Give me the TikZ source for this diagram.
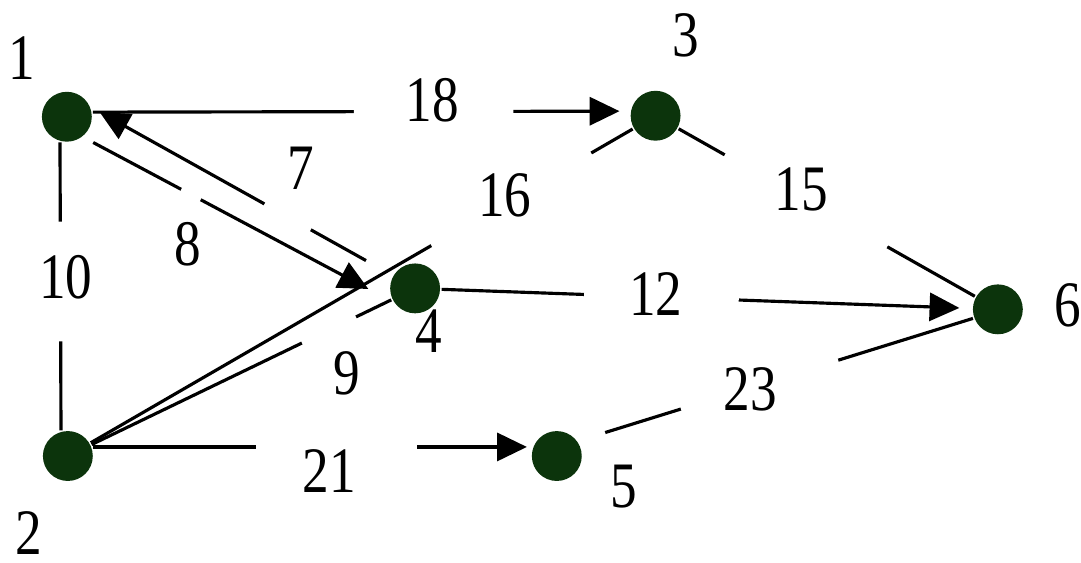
\documentclass[tikz,border=0pt]{standalone}
\usepackage{fontspec}
\setmainfont{Liberation Serif}[FakeStretch=0.82]
\usetikzlibrary{arrows.meta}
\definecolor{nodegreen}{RGB}{12,52,12}

\begin{document}
\begin{tikzpicture}[x=0.02cm,y=-0.02cm,line width=1.8pt,
  vertex/.style={circle,fill=nodegreen,minimum size=1cm,inner sep=0pt},
  arr/.style={-{Triangle[length=17pt,width=16pt]}},
  gapbox/.style={sloped,fill=white,inner sep=0pt,minimum height=5pt,minimum width=#1*0.02cm},
  lbl/.style={inner sep=0pt,font=\fontsize{37}{44}\selectfont}]
 \fill[white](0,0) rectangle (1081,564);
 \node[vertex] (n1) at (67,117) {};
 \node[vertex] (n2) at (68,457) {};
 \node[vertex] (n3) at (657,116) {};
 \node[vertex] (n4) at (416,289) {};
 \node[vertex] (n5) at (558,457) {};
 \node[vertex] (n6) at (1000,310) {};
 \draw[arr,shorten >=0.2cm] (n1.10) -- node[gapbox=160,pos=0.635]{} (n3.170);
 \draw (n1.-105) -- node[gapbox=120,pos=0.483]{} (n2.105);
 \draw[arr,shorten <=0.6cm,shorten >=0.18cm] (n4.150) -- node[gapbox=53,pos=0.348]{} (n1.20);
 \draw[arr,shorten <=0.22cm,shorten >=0.54cm] (n1.-51) -- node[gapbox=22,pos=0.348]{} (n4.-150);
 \draw (n2) -- node[gapbox=185,pos=0.776]{} (n3);
 \draw (n2) -- node[gapbox=60,pos=0.792]{} (n4);
 \draw[arr,shorten >=0.1cm] (n2.20) -- node[gapbox=161,pos=0.555]{} (n5.160);
 \draw[arr,shorten >=0.24cm] (n4) -- node[gapbox=155,pos=0.415]{} (n6);
 \draw (n3) -- node[gapbox=187,pos=0.43]{} (n6);
 \draw[shorten <=0.56cm] (n5.35) -- node[gapbox=165,pos=0.459]{} (n6.-160);
 \node[lbl] (l1) at (22,58) {1};
 \node[lbl] (l2) at (29,534) {2};
 \node[lbl] (l3) at (687,35) {3};
 \node[lbl] (l4) at (430,332) {4};
 \node[lbl] (l5) at (625,488) {5};
 \node[lbl] (l6) at (1070,306) {6};
 \node[lbl] (l7) at (301,169) {7};
 \node[lbl] (l8) at (188,245) {8};
 \node[lbl] (l9) at (348,374) {9};
 \node[lbl] (l10) at (66,278) {10};
 \node[lbl] (l12) at (657,295) {12};
 \node[lbl] (l15) at (803,190) {15};
 \node[lbl] (l16) at (506,196) {16};
 \node[lbl] (l18) at (433,100) {18};
 \node[lbl] (l21) at (330,472) {21};
 \node[lbl] (l23) at (752,390) {23};
\end{tikzpicture}
\end{document}
